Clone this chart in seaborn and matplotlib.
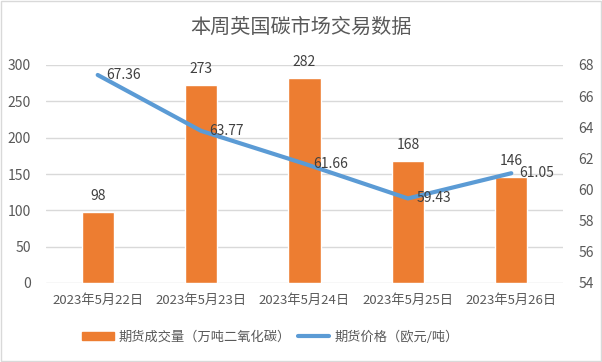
import numpy as np
import pandas as pd
import matplotlib
matplotlib.use("Agg")
import matplotlib.pyplot as plt
import seaborn as sns

dates = ["2023年5月22日", "2023年5月23日", "2023年5月24日", "2023年5月25日", "2023年5月26日"]
volume = [98, 273, 282, 168, 146]
price = [67.36, 63.77, 61.66, 59.43, 61.05]
vol_name = "期货成交量（万吨二氧化碳）"
price_name = "期货价格（欧元/吨）"

sns.set_style("white")
plt.rcParams['font.family'] = ['Noto Sans CJK SC', 'DejaVu Sans']

txt = "#595959"
orange = "#ED7D31"
blue = "#5B9BD5"

df = pd.DataFrame({"date": dates, "volume": volume, "price": price})

fig = plt.figure(figsize=(6.02, 3.62), dpi=100)
ax = fig.add_axes([46 / 602, 1 - 283 / 362, (563 - 46) / 602, (283 - 65) / 362])

sns.barplot(data=df, x="date", y="volume", color=orange, width=0.31,
            saturation=1, ax=ax, zorder=2)
ax.set_ylim(0, 300)
ax.set_yticks(range(0, 301, 50))
ax.grid(axis="y", color="#D9D9D9", linewidth=1, zorder=0)
ax.set_axisbelow(True)
for s in ax.spines.values():
    s.set_visible(False)
ax.set_xlabel("")
ax.set_ylabel("")
ax.tick_params(axis="both", length=0, colors=txt, labelsize=10)
ax.tick_params(axis="x", pad=8, labelsize=9.5)
ax.tick_params(axis="y", pad=11)
for i, v in enumerate(volume):
    ax.text(i, v + 12, str(v), ha="center", va="bottom", fontsize=10, color="#404040")

ax2 = ax.twinx()
sns.lineplot(x=np.arange(len(price)), y=price, color=blue, linewidth=3, ax=ax2)
ax2.set_ylim(54, 68)
ax2.set_yticks(range(54, 69, 2))
for s in ax2.spines.values():
    s.set_visible(False)
ax2.tick_params(axis="y", length=0, colors=txt, labelsize=10, pad=11)
ax2.set_xlim(-0.5, 4.5)
for i, p in enumerate(price):
    ax2.text(i + 0.08, p, f"{p:.2f}", ha="left", va="center", fontsize=10, color="#404040")

fig.text(0.5, 1 - 27 / 362, "本周英国碳市场交易数据", ha="center", va="center",
         fontsize=14.5, color=txt)

handles = [plt.Rectangle((0, 0), 1, 1, color=orange),
           plt.Line2D([0], [0], color=blue, linewidth=3)]
fig.legend(handles, [vol_name, price_name], loc="center left", ncol=2,
           bbox_to_anchor=(70 / 602, 1 - 337 / 362), frameon=False, fontsize=9.5,
           labelcolor=txt, handlelength=2.4, handleheight=0.6, handletextpad=0.4,
           columnspacing=0.5)

fig.patches.append(plt.Rectangle((0.002, 0.003), 0.996, 0.994, transform=fig.transFigure,
                                 fill=False, edgecolor="#D9D9D9", linewidth=1))

fig.savefig("out.png", dpi=100)
